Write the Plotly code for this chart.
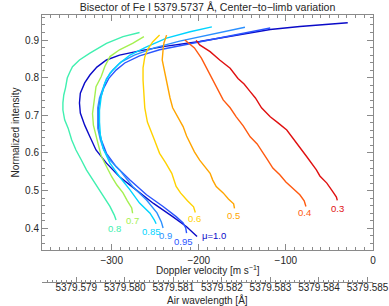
import plotly.graph_objects as go

# ---------------- data (velocity in m/s, normalized intensity) ----------------
MU_LABELS = ["μ=1.0", "0.95", "0.9", "0.85", "0.8", "0.7", "0.6", "0.5", "0.4", "0.3"]

V_MU100 = [-202, -214, -230, -252, -272, -291, -306, -318, -325, -331, -336, -337, -336,
           -331, -325, -317, -306, -291, -268, -239, -199, -159, -118, -84, -55, -29]
I_MU100 = [0.378, 0.404, 0.431, 0.466, 0.502, 0.537, 0.573, 0.608, 0.643, 0.674, 0.706,
           0.733, 0.759, 0.786, 0.807, 0.828, 0.847, 0.860, 0.871, 0.883, 0.896, 0.912,
           0.928, 0.936, 0.941, 0.946]

V_MU095 = [-214, -215, -218, -226, -241, -260, -279, -295, -306, -312, -315, -315, -315,
           -313, -309, -303, -295, -285, -268, -245, -216, -187, -153, -118]
I_MU095 = [0.387, 0.401, 0.414, 0.431, 0.458, 0.489, 0.528, 0.564, 0.599, 0.635, 0.666,
           0.693, 0.720, 0.746, 0.773, 0.799, 0.820, 0.839, 0.858, 0.874, 0.887, 0.900,
           0.916, 0.932]

V_MU090 = [-241, -243, -248, -260, -276, -291, -302, -309, -313, -316, -316, -316, -314,
           -310, -306, -299, -289, -274, -251, -222, -187, -147]
I_MU090 = [0.401, 0.417, 0.441, 0.475, 0.511, 0.555, 0.581, 0.608, 0.635, 0.666, 0.693,
           0.720, 0.746, 0.773, 0.797, 0.820, 0.842, 0.860, 0.879, 0.897, 0.915, 0.934]

V_MU085 = [-249, -251, -256, -268, -279, -291, -302, -310, -313, -314, -314, -312, -308,
           -302, -291, -279, -260, -237, -210, -185]
I_MU085 = [0.412, 0.422, 0.440, 0.467, 0.502, 0.537, 0.573, 0.613, 0.648, 0.682, 0.714,
           0.750, 0.785, 0.812, 0.838, 0.860, 0.882, 0.905, 0.922, 0.935]

V_MU080 = [-295, -297, -302, -312, -322, -329, -335, -341, -346, -350, -354, -356, -356,
           -355, -353, -351, -348, -345, -337, -325, -306, -287, -268]
I_MU080 = [0.422, 0.435, 0.458, 0.493, 0.528, 0.555, 0.582, 0.608, 0.635, 0.666, 0.688,
           0.714, 0.733, 0.754, 0.773, 0.799, 0.815, 0.829, 0.847, 0.865, 0.891, 0.909,
           0.920]

V_MU070 = [-276, -277, -282, -287, -294, -300, -306, -312, -315, -318, -321, -322, -320,
           -318, -312, -308, -302, -291, -276, -263]
I_MU070 = [0.440, 0.454, 0.473, 0.494, 0.515, 0.537, 0.564, 0.592, 0.619, 0.645, 0.674,
           0.705, 0.741, 0.776, 0.803, 0.829, 0.856, 0.874, 0.891, 0.909]

V_MU060 = [-204, -206, -213, -221, -226, -231, -238, -245, -251, -254, -259, -262, -263,
           -264, -264, -262, -259, -253, -245]
I_MU060 = [0.442, 0.457, 0.473, 0.494, 0.511, 0.546, 0.574, 0.599, 0.635, 0.652, 0.682,
           0.720, 0.754, 0.794, 0.826, 0.855, 0.874, 0.895, 0.913]

V_MU050 = [-159, -160, -166, -172, -180, -184, -187, -193, -199, -205, -208, -214, -218,
           -224, -230, -233, -235, -237, -240, -242, -241, -240, -237]
I_MU050 = [0.453, 0.465, 0.478, 0.494, 0.511, 0.528, 0.546, 0.563, 0.581, 0.603, 0.617,
           0.645, 0.670, 0.696, 0.720, 0.746, 0.767, 0.794, 0.820, 0.847, 0.874, 0.892,
           0.913]

V_MU040 = [-77, -79, -84, -92, -100, -107, -115, -121, -126, -133, -141, -149, -157, -164,
           -172, -178, -184, -191, -197, -205, -216]
I_MU040 = [0.458, 0.473, 0.489, 0.506, 0.523, 0.542, 0.560, 0.582, 0.600, 0.624, 0.643,
           0.672, 0.696, 0.720, 0.741, 0.767, 0.794, 0.826, 0.852, 0.879, 0.900]

V_MU030 = [-41, -42, -46, -53, -61, -65, -76, -88, -99, -109, -118, -128, -135, -141, -148,
           -155, -164, -176, -187, -199, -203]
I_MU030 = [0.474, 0.483, 0.497, 0.520, 0.539, 0.555, 0.590, 0.626, 0.661, 0.680, 0.696,
           0.720, 0.746, 0.763, 0.783, 0.798, 0.825, 0.847, 0.869, 0.887, 0.899]

VELOCITIES = [V_MU100, V_MU095, V_MU090, V_MU085, V_MU080, V_MU070, V_MU060, V_MU050,
              V_MU040, V_MU030]
INTENSITIES = [I_MU100, I_MU095, I_MU090, I_MU085, I_MU080, I_MU070, I_MU060, I_MU050,
               I_MU040, I_MU030]

X_TICK_VALUES = [-300, -200, -100, 0]
Y_TICK_VALUES = [0.4, 0.5, 0.6, 0.7, 0.8, 0.9]
WL_TICK_VALUES = [5379.579, 5379.580, 5379.581, 5379.582, 5379.583, 5379.584, 5379.585]

LAMBDA_REST = 5379.5737      # Å
GRAV_REDSHIFT = 636.0        # m/s
C_LIGHT = 299792458.0        # m/s
V_RANGE = [-380, 0]
Y_RANGE = [0.3425, 0.9664]

# ---------------- styles ----------------
COLORS = ["#0a0ac8", "#2a55ff", "#2a90ff", "#00d4ff", "#40f0b0", "#a4f050",
          "#ffd200", "#ffa500", "#ff5a10", "#e01010"]
LABEL_XSHIFT = [3, -3, 2, -5, -2, 0, -1, -1, -1, 0]
LABEL_YSHIFT = [1, -8, -8, -8, -8, -7, -6, -7, -6, -8]
LABEL_XANCHOR = ["left"] + ["center"] * 9

FONT = "Liberation Sans, Arial, Helvetica, sans-serif"
AX_COLOR = "#8a8a8a"
TXT_COLOR = "#262626"


def vel_to_wl(v):
    return LAMBDA_REST * (1.0 + (v + GRAV_REDSHIFT) / C_LIGHT)


fig = go.Figure()

for lab, v, i, col in zip(MU_LABELS, VELOCITIES, INTENSITIES, COLORS):
    fig.add_trace(go.Scatter(x=v, y=i, mode="lines", name=lab,
                             line=dict(color=col, width=1.4), hoverinfo="skip"))

# helper trace that activates the wavelength axis (draws nothing)
fig.add_trace(go.Scatter(x=[vel_to_wl(V_RANGE[0]), vel_to_wl(V_RANGE[1])], y=[None, None],
                         xaxis="x2", yaxis="y2", mode="lines", showlegend=False,
                         hoverinfo="skip", line=dict(width=0)))

annotations = []
for k, (lab, v, i, col) in enumerate(zip(MU_LABELS, VELOCITIES, INTENSITIES, COLORS)):
    annotations.append(dict(x=v[0], y=i[0], xref="x", yref="y", text=lab, showarrow=False,
                            xanchor=LABEL_XANCHOR[k], yanchor="middle",
                            xshift=LABEL_XSHIFT[k], yshift=LABEL_YSHIFT[k],
                            font=dict(color=col, size=9.5, family=FONT)))

# axis titles
annotations.append(dict(x=0.5, y=0.044, xref="paper", yref="paper",
                        text="Doppler velocity [m s<sup>−1</sup>]", showarrow=False,
                        xanchor="center", yanchor="middle",
                        font=dict(size=10, color=TXT_COLOR, family=FONT)))
annotations.append(dict(x=0.5, y=-0.066, xref="paper", yref="paper",
                        text="Air wavelength [Å]", showarrow=False,
                        xanchor="center", yanchor="middle",
                        font=dict(size=10, color=TXT_COLOR, family=FONT)))
annotations.append(dict(x=-0.0816, y=0.56, xref="paper", yref="paper",
                        text="Normalized intensity", showarrow=False, textangle=-90,
                        xanchor="center", yanchor="middle",
                        font=dict(size=10, color=TXT_COLOR, family=FONT)))

common_ax = dict(showline=True, linecolor=AX_COLOR, linewidth=1, ticks="inside",
                 tickcolor=AX_COLOR, tickwidth=1, showgrid=False, zeroline=False,
                 ticklabeloverflow="allow", automargin=False,
                 tickfont=dict(size=10, color=TXT_COLOR, family=FONT))

fig.update_layout(
    width=389, height=306, autosize=False,
    margin=dict(l=42, r=16, t=15, b=24, pad=0, autoexpand=False),
    paper_bgcolor="white", plot_bgcolor="white",
    showlegend=False,
    font=dict(family=FONT, size=10, color=TXT_COLOR),
    title=dict(text="Bisector of Fe I 5379.5737 Å, Center−to−limb variation",
               x=0.5, xref="paper", xanchor="center",
               y=1 - 7 / 306, yref="container", yanchor="middle", automargin=False,
               font=dict(size=10.6, color=TXT_COLOR, family=FONT)),
    xaxis=dict(domain=[0, 1], range=V_RANGE, anchor="y", mirror="ticks",
               tickvals=X_TICK_VALUES, ticklen=6, ticklabelstandoff=1,
               minor=dict(dtick=10, tick0=0, ticklen=3, ticks="inside",
                          tickcolor=AX_COLOR, showgrid=False),
               **common_ax),
    yaxis=dict(domain=[0.12, 1], range=Y_RANGE, anchor="x", mirror="ticks",
               tickvals=Y_TICK_VALUES, tickformat=".1f", ticklen=6,
               minor=dict(dtick=0.02, tick0=0, ticklen=3, ticks="inside",
                          tickcolor=AX_COLOR, showgrid=False),
               **common_ax),
    xaxis2=dict(domain=[0, 1], anchor="y2", side="bottom",
                range=[vel_to_wl(V_RANGE[0]), vel_to_wl(V_RANGE[1])],
                tickvals=WL_TICK_VALUES, tickformat=".3f", ticklen=5, ticklabelstandoff=-4,
                minor=dict(dtick=0.0001, tick0=5379.579, ticklen=2.5, ticks="inside",
                           tickcolor=AX_COLOR, showgrid=False),
                **common_ax),
    yaxis2=dict(domain=[0, 0.005], anchor="x2", visible=False, range=[0, 1]),
    annotations=annotations,
)

fig.write_html("out.html",
               config={"displayModeBar": False, "responsive": False},
               post_script="document.body.style.margin='0px';")
